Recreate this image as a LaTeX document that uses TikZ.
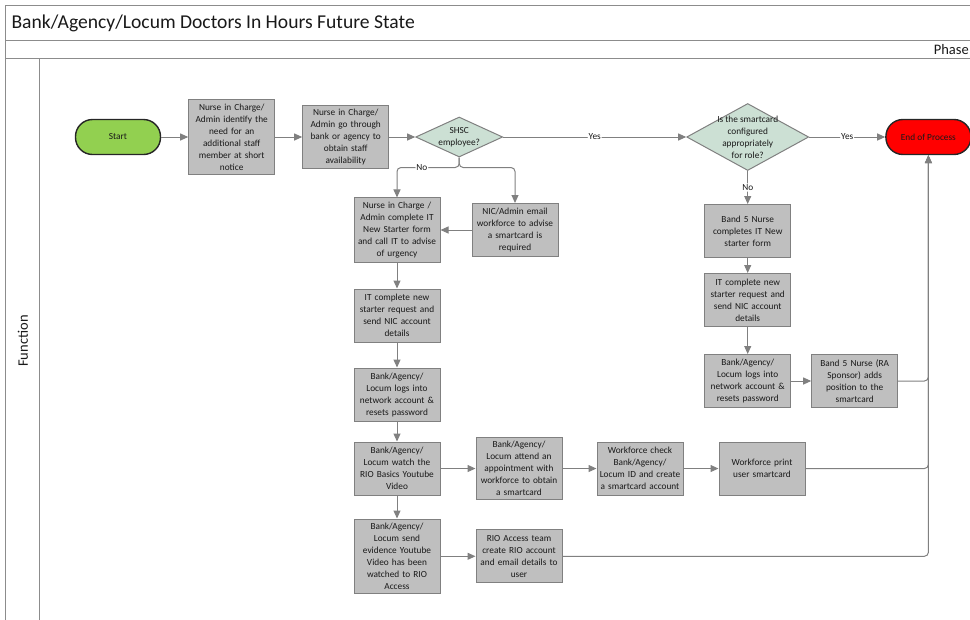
\documentclass[tikz,border=0pt]{standalone}
\usepackage{fontspec}
\setmainfont{Carlito}
\usepackage{tikz}
\usetikzlibrary{shapes.geometric, arrows.meta, positioning}
\definecolor{boxgray}{RGB}{191,191,191}
\definecolor{linegray}{RGB}{128,128,128}
\definecolor{decgreen}{RGB}{204,224,212}
\definecolor{startgreen}{RGB}{146,208,80}
\tikzstyle{startstop} = [rectangle, rounded corners=17pt, minimum width=85pt, minimum height=35pt, text centered, draw=black!85, line width=1.4pt, font=\fontsize{9.3}{12}\selectfont, text=black!90]
\tikzstyle{process} = [rectangle, text width=83pt, align=center, inner xsep=1.5pt, inner ysep=4pt, minimum height=53pt, draw=linegray, line width=1pt, fill=boxgray, font=\fontsize{9.3}{12}\selectfont, text=black!90]
\tikzstyle{decision} = [diamond, minimum width=87pt, minimum height=40pt, inner sep=0pt, draw=linegray, line width=1pt, fill=decgreen]
\tikzstyle{dectext} = [align=center, font=\fontsize{9.3}{12}\selectfont, text=black!90]
\tikzstyle{arrow} = [line width=1pt, draw=linegray, rounded corners=4pt, -{Triangle[length=8pt,width=7pt]}]
\tikzstyle{lbl} = [fill=white, inner sep=1pt, font=\fontsize{9.3}{10}\selectfont, text=black!90]
\tikzstyle{frame} = [draw=black!45, line width=0.6pt, double=white, double distance=0.8pt]

\begin{document}
\begin{tikzpicture}[x=1pt, y=-1pt]
\useasboundingbox (0,0) rectangle (970,619);
\clip (0,0) rectangle (970,619);

% swimlane frame
\draw[frame] (980,6) -- (6,6) -- (6,630);
\draw[frame] (6,41) -- (980,41);
\draw[frame] (6,59) -- (980,59);
\draw[frame] (40,59) -- (40,630);
\node (title) [anchor=west, font=\fontsize{19.6}{24}\selectfont, text=black!90] at (8,23) {Bank/Agency/Locum Doctors In Hours Future State};
\node (phase) [anchor=east, inner sep=1pt, font=\fontsize{14.5}{16}\selectfont, text=black!90] at (970,50) {Phase};
\node (function) [rotate=90, font=\fontsize{14.5}{16}\selectfont, text=black!90] at (23,341) {Function};

% main row
\node (start) [startstop, fill=startgreen] at (118,137) {Start};
\node (identify) [process, right=27pt of start] {Nurse in Charge/\\Admin identify the\\need for an\\additional staff\\member at short\\notice};
\node (bank) [process, right=27pt of identify] {Nurse in Charge/\\Admin go through\\bank or agency to\\obtain staff\\availability};
\node (shsc) [decision, right=26pt of bank] {};
\node (shsctxt) [dectext] at (shsc) {SHSC\\employee?};
\node (config) [decision, minimum width=122pt, minimum height=67pt, right=183pt of shsc] {};
\node (configtxt) [dectext] at (config) {Is the smartcard\\configured\\appropriately\\for role?};
\node (end) [startstop, fill=red, right=76pt of config] {End of Process};

% not an SHSC employee
\node (newform) [process] at (397,230) {Nurse in Charge /\\Admin complete IT\\New Starter form\\and call IT to advise\\of urgency};
\node (nicemail) [process, right=31pt of newform] {NIC/Admin email\\workforce to advise\\a smartcard is\\required};
\node (itreq) [process, below=26pt of newform] {IT complete new\\starter request and\\send NIC account\\details};
\node (logs) [process, below=25pt of itreq] {Bank/Agency/\\Locum logs into\\network account \&\\resets password};
\node (video) [process, below=20pt of logs] {Bank/Agency/\\Locum watch the\\RIO Basics Youtube\\Video};
\node (evidence) [process, below=23pt of video] {Bank/Agency/\\Locum send\\evidence Youtube\\Video has been\\watched to RIO\\Access};
\node (attend) [process, right=35pt of video] {Bank/Agency/\\Locum attend an\\appointment with\\workforce to obtain\\a smartcard};
\node (check) [process, right=34pt of attend] {Workforce check\\Bank/Agency/\\Locum ID and create\\a smartcard account};
\node (print) [process, right=35pt of check] {Workforce print\\user smartcard};
\node (rio) [process, right=35pt of evidence] {RIO Access team\\create RIO account\\and email details to\\user};

% smartcard not configured
\node (bandform) [process, below=33pt of config] {Band 5 Nurse\\completes IT New\\starter form};
\node (itreqb) [process, below=15pt of bandform] {IT complete new\\starter request and\\send NIC account\\details};
\node (logsb) [process, below=27pt of itreqb] {Bank/Agency/\\Locum logs into\\network account \&\\resets password};
\node (sponsor) [process, right=20pt of logsb] {Band 5 Nurse (RA\\Sponsor) adds\\position to the\\smartcard};

\draw [arrow] (start) -- (identify);
\draw [arrow] (identify) -- (bank);
\draw [arrow] (bank) -- (shsc);
\draw [arrow] (shsc) -- node[lbl] {Yes} (config);
\draw [arrow] (config) -- node[lbl] {Yes} (end);
\draw [arrow] (shsc.south) -- ++(0,10) -| node[lbl, pos=0.3] {No} (newform.north);
\draw [arrow] (shsc.south) -- ++(0,10) -| (nicemail.north);
\draw [arrow] (nicemail) -- (newform);
\draw [arrow] (newform) -- (itreq);
\draw [arrow] (itreq) -- (logs);
\draw [arrow] (logs) -- (video);
\draw [arrow] (video) -- (evidence);
\draw [arrow] (video) -- (attend);
\draw [arrow] (attend) -- (check);
\draw [arrow] (check) -- (print);
\draw [arrow] (evidence) -- (rio);
\draw [arrow] (config) -- node[lbl] {No} (bandform);
\draw [arrow] (bandform) -- (itreqb);
\draw [arrow] (itreqb) -- (logsb);
\draw [arrow] (logsb) -- (sponsor);
\draw [arrow] (sponsor.east) -| (end.south);
\draw [arrow] (print.east) -| (end.south);
\draw [arrow] (rio.east) -| (end.south);

\end{tikzpicture}
\end{document}
